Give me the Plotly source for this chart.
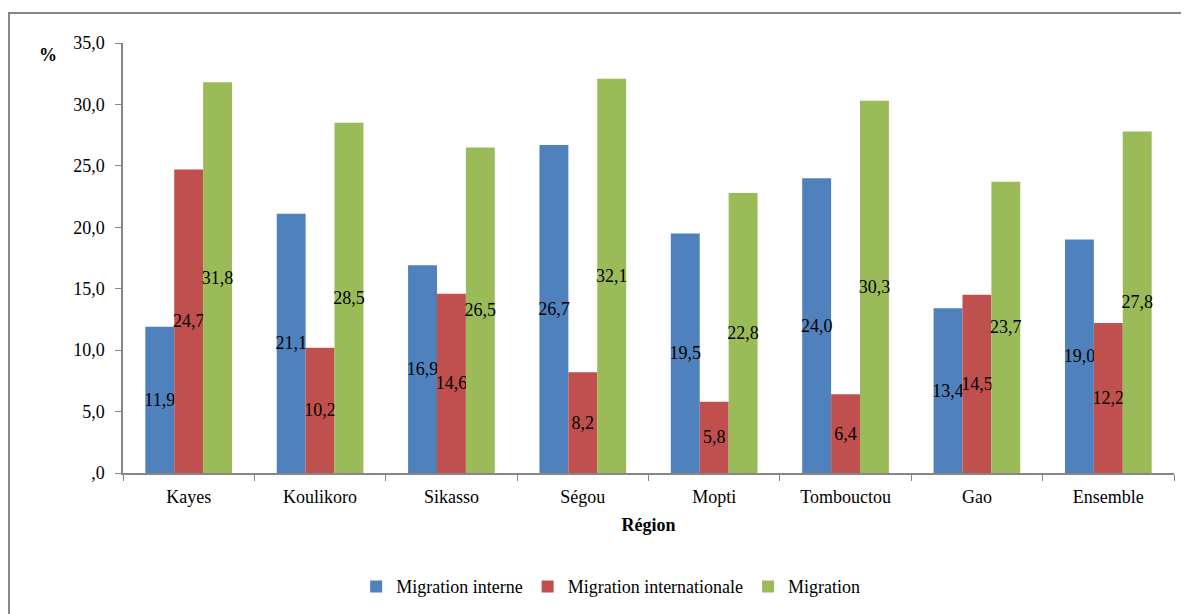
import plotly.graph_objects as go

regions = ["Kayes", "Koulikoro", "Sikasso", "Ségou", "Mopti", "Tombouctou", "Gao", "Ensemble"]
interne = [11.9, 21.1, 16.9, 26.7, 19.5, 24.0, 13.4, 19.0]
internationale = [24.7, 10.2, 14.6, 8.2, 5.8, 6.4, 14.5, 12.2]
migration = [31.8, 28.5, 26.5, 32.1, 22.8, 30.3, 23.7, 27.8]

y_ticks = [0, 5, 10, 15, 20, 25, 30, 35]
y_tick_labels = [",0", "5,0", "10,0", "15,0", "20,0", "25,0", "30,0", "35,0"]

FONT = "Liberation Serif"
AXIS = "#868686"


def fr(v):
    return f"{v:.1f}".replace(".", ",")


series = [
    ("Migration interne", interne, "#4F81BD"),
    ("Migration internationale", internationale, "#C0504D"),
    ("Migration", migration, "#9BBB59"),
]

fig = go.Figure()
for name, vals, color in series:
    fig.add_trace(go.Bar(
        x=regions,
        y=vals,
        name=name,
        marker=dict(color=color, line=dict(width=0)),
        text=[fr(v) for v in vals],
        textposition="inside",
        insidetextanchor="middle",
        constraintext="none",
        textangle=0,
        textfont=dict(family=FONT, size=18, color="black"),
    ))

# page body has an 8px margin, so the figure is drawn from (8, 8)
fig.update_layout(
    width=1181,
    height=606,
    paper_bgcolor="white",
    plot_bgcolor="white",
    font=dict(family=FONT, size=18, color="black"),
    margin=dict(l=115, r=15, t=35, b=141),
    barmode="group",
    bargap=0.34,
    bargroupgap=0,
    showlegend=True,
    legend=dict(
        orientation="h",
        xref="paper", x=0.464, xanchor="center",
        yref="container", y=0.045, yanchor="middle",
        font=dict(family=FONT, size=18),
        itemwidth=30,
    ),
    xaxis=dict(
        showline=True, linecolor=AXIS, linewidth=1.5,
        ticks="outside", tickcolor=AXIS, ticklen=6, tickson="boundaries",
        ticklabelstandoff=7,
        showgrid=False, automargin=False,
        title=dict(text="<b>Région</b>", font=dict(family=FONT, size=18), standoff=12),
    ),
    yaxis=dict(
        range=[0, 35],
        tickvals=y_ticks,
        ticktext=y_tick_labels,
        showline=True, linecolor=AXIS, linewidth=1.5,
        ticks="outside", tickcolor=AXIS, ticklen=6,
        ticklabelstandoff=7,
        showgrid=False, zeroline=False, automargin=False,
    ),
    annotations=[dict(
        text="<b>%</b>", xref="paper", yref="paper",
        x=-0.0714, y=0.972, xanchor="center", yanchor="middle",
        showarrow=False,
        font=dict(family=FONT, size=18),
    )],
    shapes=[dict(
        type="rect", xref="paper", yref="paper",
        x0=-0.1085, x1=1.05, y0=-0.4, y1=1.0698,
        line=dict(color=AXIS, width=2), fillcolor="rgba(0,0,0,0)",
        layer="below",
    )],
)

fig.write_html("out.html")
